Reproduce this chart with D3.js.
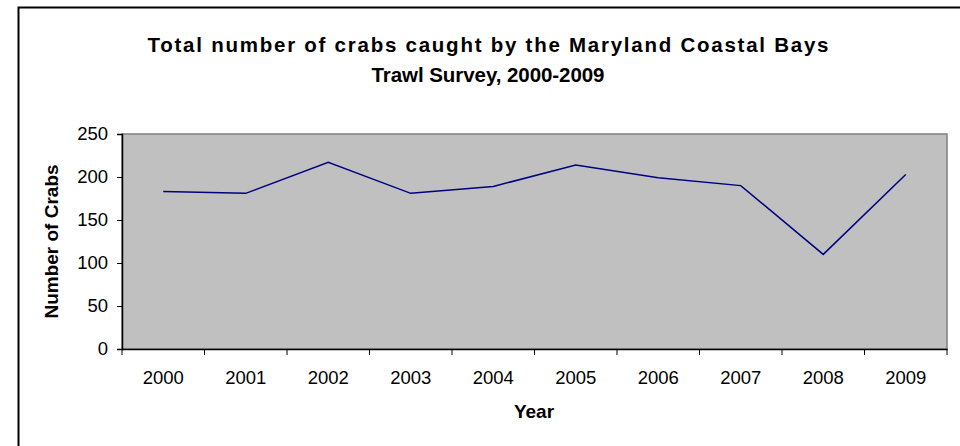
<!DOCTYPE html>
<html>
<head>
<meta charset="utf-8">
<script src="https://cdn.jsdelivr.net/npm/d3@7/dist/d3.min.js"></script>
<style>
  html, body { margin: 0; padding: 0; background: #fff; }
  svg { display: block; font-family: Arial, "Liberation Sans", sans-serif; }
</style>
</head>
<body>
<svg id="chart" width="960" height="446"></svg>
<script>
const years = ["2000","2001","2002","2003","2004","2005","2006","2007","2008","2009"];
const crabs = [183, 181, 217, 181, 189, 214, 199, 190, 110, 203];
const yTicks = [0, 50, 100, 150, 200, 250];
const titleLines = ["Total number of crabs caught by the Maryland Coastal Bays", "Trawl Survey, 2000-2009"];

const svg = d3.select("#chart");
const W = 960, H = 446;
const m = { left: 122, right: 13, top: 134, bottom: 97 };
const pw = W - m.left - m.right, ph = H - m.top - m.bottom;
const FONT = "Arial, 'Liberation Sans', sans-serif";

// outer frame
svg.append("rect").attr("x", 18.5).attr("y", 7.5).attr("width", 1000).attr("height", 1000)
  .attr("fill", "#fff").attr("stroke", "#000").attr("stroke-width", 2);

// title
const titleLens = [681, 233];
const title = svg.append("text").attr("text-anchor", "middle")
  .attr("font-weight", "bold").attr("font-size", 20.5).attr("fill", "#000");
titleLines.forEach((t, i) => {
  title.append("tspan").attr("x", 488).attr("y", 52 + i * 30)
    .attr("textLength", titleLens[i]).attr("lengthAdjust", "spacing").text(t);
});

const x = d3.scaleBand().domain(years).range([m.left, m.left + pw]).padding(0);
const y = d3.scaleLinear().domain([0, 250]).range([m.top + ph, m.top]);

// plot area
svg.append("rect").attr("x", m.left).attr("y", m.top).attr("width", pw).attr("height", ph)
  .attr("fill", "#c0c0c0").attr("stroke", "#808080").attr("stroke-width", 1.5);

// y axis
const yAxis = svg.append("g").attr("transform", `translate(${m.left},0)`)
  .call(d3.axisLeft(y).tickValues(yTicks).tickSize(5).tickPadding(9));
yAxis.attr("font-size", null).attr("font-family", null);
yAxis.select(".domain").attr("stroke", "#000").attr("stroke-width", 1.5);
yAxis.selectAll(".tick line").attr("stroke", "#000");
yAxis.selectAll(".tick text").style("font-size", "18.5px").style("font-family", FONT).attr("fill", "#000");

// x axis with ticks at band boundaries
const xAxis = svg.append("g").attr("transform", `translate(0,${m.top + ph})`)
  .call(d3.axisBottom(x).tickSize(0).tickPadding(22));
xAxis.attr("font-size", null).attr("font-family", null);
xAxis.select(".domain").attr("stroke", "#000").attr("stroke-width", 1.5);
xAxis.selectAll(".tick text").style("font-size", "18.5px").style("font-family", FONT).attr("fill", "#000");
const bounds = years.map(d => x(d)).concat([x(years[years.length - 1]) + x.bandwidth()]);
xAxis.selectAll("line.bt").data(bounds).enter().append("line").attr("class", "bt")
  .attr("x1", d => d).attr("x2", d => d).attr("y1", 0).attr("y2", 6)
  .attr("stroke", "#000").attr("stroke-width", 1);

// line
const line = d3.line().x((d, i) => x(years[i]) + x.bandwidth() / 2).y(d => y(d));
svg.append("path").datum(crabs).attr("d", line)
  .attr("fill", "none").attr("stroke", "#000080").attr("stroke-width", 1.5);

// axis titles
svg.append("text").attr("x", m.left + pw / 2 - 0.5).attr("y", 418).attr("text-anchor", "middle")
  .attr("font-weight", "bold").attr("font-size", 19).attr("fill", "#000").text("Year");
svg.append("text").attr("transform", `translate(58,${m.top + ph / 2}) rotate(-90)`)
  .attr("text-anchor", "middle").attr("font-weight", "bold").attr("font-size", 19)
  .attr("fill", "#000").text("Number of Crabs");
</script>
</body>
</html>
